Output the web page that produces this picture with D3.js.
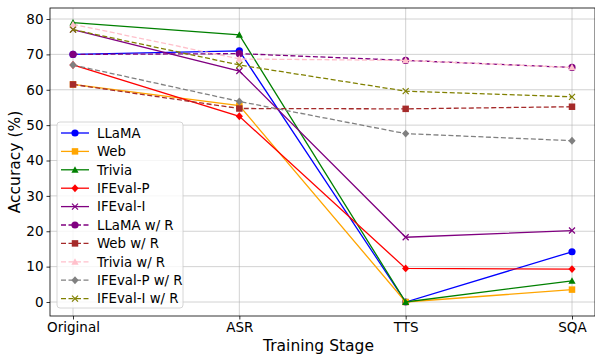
<!DOCTYPE html>
<html><head><meta charset="utf-8">
<script src="https://cdn.jsdelivr.net/npm/d3@7"></script>
<style>body{margin:0;background:#fff}svg{display:block;font-family:"DejaVu Sans",sans-serif}</style>
</head><body><svg id="c" width="595" height="356"></svg>
<script>
const stages = ["Original", "ASR", "TTS", "SQA"];
const yTicks = [0, 10, 20, 30, 40, 50, 60, 70, 80];
const seriesNames = ["LLaMA", "Web", "Trivia", "IFEval-P", "IFEval-I", "LLaMA w/ R", "Web w/ R", "Trivia w/ R", "IFEval-P w/ R", "IFEval-I w/ R"];
const llama = [70, 71, 0, 14.2];
const web = [61.5, 55.5, 0, 3.5];
const trivia = [79, 75.5, 0, 6];
const ifevalP = [67, 52.5, 9.5, 9.3];
const ifevalI = [77, 65.3, 18.3, 20.2];
const llamaR = [70, 70.2, 68.3, 66.3];
const webR = [61.5, 54.7, 54.6, 55.2];
const triviaR = [78.5, 68.7, 68.3, 66.3];
const ifevalPR = [67, 56.7, 47.6, 45.6];
const ifevalIR = [77, 67, 59.6, 58];
const seriesValues = [llama, web, trivia, ifevalP, ifevalI, llamaR, webR, triviaR, ifevalPR, ifevalIR];
const colors = ["blue", "orange", "green", "red", "purple", "purple", "brown", "pink", "gray", "olive"];
const markers = ["circle", "square", "triangle", "diamond", "x", "circle", "square", "triangle", "diamond", "x"];
const dashed = [false, false, false, false, false, true, true, true, true, true];

const svg = d3.select("#c");
const L = 50, R = 595, T = 8, B = 316;
const x = d3.scalePoint().domain(stages).range([73, 572]);
const y = d3.scaleLinear().domain([0, 80]).range([302, 19]);

// grid
const g = svg.append("g");
g.selectAll(".gy").data(yTicks).enter().append("line")
  .attr("x1", L).attr("x2", R).attr("y1", d => y(d)).attr("y2", d => y(d))
  .attr("stroke", "#b0b0b0").attr("stroke-width", 0.8).attr("opacity", 0.7);
g.selectAll(".gx").data(stages).enter().append("line")
  .attr("y1", T).attr("y2", B).attr("x1", d => x(d)).attr("x2", d => x(d))
  .attr("stroke", "#b0b0b0").attr("stroke-width", 0.8).attr("opacity", 0.7);

// axes
const ax = svg.append("g").attr("transform", `translate(0,${B})`)
  .call(d3.axisBottom(x).tickSize(3.5).tickPadding(3));
const ay = svg.append("g").attr("transform", `translate(${L},0)`)
  .call(d3.axisLeft(y).tickValues(yTicks).tickSize(3.5).tickPadding(3));
[ax, ay].forEach(a => {
  a.select(".domain").remove();
  a.selectAll("text").attr("font-size", 13.5).attr("fill", "#000").attr("font-family", "DejaVu Sans");
  a.selectAll("line").attr("stroke", "#000").attr("stroke-width", 0.8);
});
svg.append("rect").attr("x", L).attr("y", T).attr("width", R - L).attr("height", B - T)
  .attr("fill", "none").attr("stroke", "#000").attr("stroke-width", 0.8);

svg.append("text").attr("x", (L + R) / 2 - 4).attr("y", 351).attr("text-anchor", "middle")
  .attr("font-size", 15.5).text("Training Stage");
svg.append("text").attr("transform", `translate(20,${(T + B) / 2}) rotate(-90)`).attr("text-anchor", "middle")
  .attr("font-size", 15.5).text("Accuracy (%)");

function drawMarker(sel, type, color, cx, cy) {
  const s = 3.6;
  if (type === "circle") sel.append("circle").attr("cx", cx).attr("cy", cy).attr("r", s).attr("fill", color);
  else if (type === "square") sel.append("rect").attr("x", cx - s * 0.9).attr("y", cy - s * 0.9).attr("width", s * 1.8).attr("height", s * 1.8).attr("fill", color);
  else if (type === "triangle") sel.append("path").attr("d", `M${cx},${cy - s}L${cx + s},${cy + s * 0.8}L${cx - s},${cy + s * 0.8}Z`).attr("fill", color);
  else if (type === "diamond") sel.append("path").attr("d", `M${cx},${cy - s * 1.1}L${cx + s},${cy}L${cx},${cy + s * 1.1}L${cx - s},${cy}Z`).attr("fill", color);
  else if (type === "x") sel.append("path").attr("d", `M${cx - 3},${cy - 3}L${cx + 3},${cy + 3}M${cx - 3},${cy + 3}L${cx + 3},${cy - 3}`).attr("stroke", color).attr("stroke-width", 1.2);
}

const line = d3.line().x((d, i) => x(stages[i])).y(d => y(d));
const plot = svg.append("g");
seriesValues.forEach((vals, k) => {
  const sg = plot.append("g");
  sg.append("path").attr("d", line(vals)).attr("fill", "none").attr("stroke", colors[k])
    .attr("stroke-width", 1.3).attr("stroke-dasharray", dashed[k] ? "5,2.5" : null);
  vals.forEach((v, i) => drawMarker(sg, markers[k], colors[k], x(stages[i]), y(v)));
});

// legend
const lg = svg.append("g");
lg.append("rect").attr("x", 57).attr("y", 122).attr("width", 126).attr("height", 186).attr("rx", 3)
  .attr("fill", "#fff").attr("fill-opacity", 0.8).attr("stroke", "#ccc").attr("stroke-width", 0.8);
seriesNames.forEach((n, k) => {
  const yy = 133 + k * 18.4;
  lg.append("line").attr("x1", 61).attr("x2", 89).attr("y1", yy).attr("y2", yy).attr("stroke", colors[k])
    .attr("stroke-width", 1.3).attr("stroke-dasharray", dashed[k] ? "5,2.5" : null);
  drawMarker(lg, markers[k], colors[k], 75, yy);
  lg.append("text").attr("x", 97).attr("y", yy + 4.8).attr("font-size", 13.3).text(n);
});
</script></body></html>
